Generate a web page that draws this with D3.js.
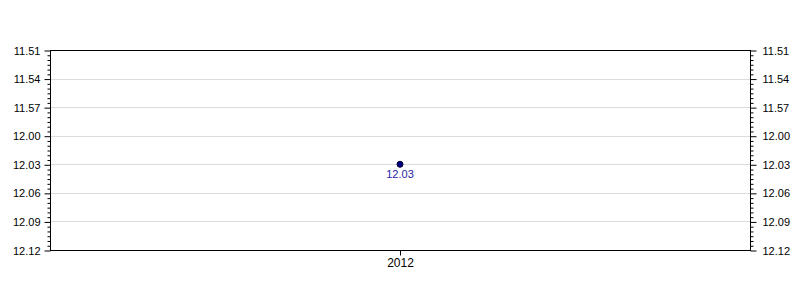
<!DOCTYPE html>
<html>
<head>
<meta charset="utf-8">
<script src="https://cdn.jsdelivr.net/npm/d3@7"></script>
<style>
  body { margin: 0; background: #fff; }
  svg text { font-family: "Liberation Sans", Arial, sans-serif; font-size: 11px; fill: #000; }
  .xaxis text { font-size: 12px; }
  .label { fill: #2626a0; }
</style>
</head>
<body>
<svg width="800" height="300"></svg>
<script>
// times are written m.ss (minutes.seconds)
var categories = ["2012"];
var times = ["12.03"];
var yTickLabels = ["11.51", "11.54", "11.57", "12.00", "12.03", "12.06", "12.09", "12.12"];

function toSec(s) {
  var p = s.split(".");
  return +p[0] * 60 + +p[1];
}
function fmt(v) {
  var m = Math.floor(v / 60), s = Math.round(v - m * 60);
  return m + "." + (s < 10 ? "0" : "") + s;
}

var svg = d3.select("svg");
var plotL = 50, plotR = 750, plotT = 50, plotB = 250;

var majors = yTickLabels.map(toSec);
var minors = d3.range(majors[0], majors[majors.length - 1] + 0.01, 0.5)
  .filter(function(v) { return majors.indexOf(v) < 0; });

var yScale = d3.scaleLinear()
  .domain([majors[0], majors[majors.length - 1]])
  .range([plotT, plotB]);
var xScale = d3.scaleBand().domain(categories).range([plotL, plotR]).padding(0);

var g = svg.append("g").attr("transform", "translate(0.5,0.5)");

// gridlines
g.append("g").selectAll("line")
  .data(majors.slice(1, -1))
  .enter().append("line")
  .attr("x1", plotL).attr("x2", plotR)
  .attr("y1", function(d) { return Math.round(yScale(d)); })
  .attr("y2", function(d) { return Math.round(yScale(d)); })
  .attr("stroke", "#dcdcdc");

// frame
g.append("rect")
  .attr("x", plotL).attr("y", plotT)
  .attr("width", plotR - plotL).attr("height", plotB - plotT)
  .attr("fill", "none").attr("stroke", "#000");

function yAxis(gen, x) {
  var a = g.append("g").attr("transform", "translate(" + x + ",0)");
  a.call(gen(yScale).tickValues(majors).tickFormat(fmt).tickSize(6).tickSizeOuter(0));
  a.append("g").call(gen(yScale).tickValues(minors).tickFormat("").tickSize(3).tickSizeOuter(0));
  a.selectAll(".domain").remove();
  a.selectAll("line").attr("stroke", "#000");
  a.attr("font-size", null).attr("font-family", null);
  return a;
}
yAxis(d3.axisLeft, plotL).selectAll("text").attr("x", -10);
yAxis(d3.axisRight, plotR).selectAll("text").attr("x", 12);

var xa = g.append("g").attr("class", "xaxis").attr("transform", "translate(0," + plotB + ")")
  .call(d3.axisBottom(xScale).tickSize(5).tickSizeOuter(0).tickPadding(3));
xa.select(".domain").remove();
xa.selectAll("line").attr("stroke", "#000");
xa.attr("font-size", null).attr("font-family", null);

// point and value label
var pts = svg.append("g").selectAll("g")
  .data(categories.map(function(c, i) { return { cat: c, t: times[i] }; }))
  .enter().append("g");

pts.append("circle")
  .attr("cx", function(d) { return xScale(d.cat) + xScale.bandwidth() / 2; })
  .attr("cy", function(d) { return yScale(toSec(d.t)); })
  .attr("r", 3)
  .attr("fill", "#000080")
  .attr("stroke", "#000033");

pts.append("text")
  .attr("class", "label")
  .attr("x", function(d) { return xScale(d.cat) + xScale.bandwidth() / 2; })
  .attr("y", function(d) { return yScale(toSec(d.t)) + 14; })
  .attr("text-anchor", "middle")
  .text(function(d) { return d.t; });
</script>
</body>
</html>
